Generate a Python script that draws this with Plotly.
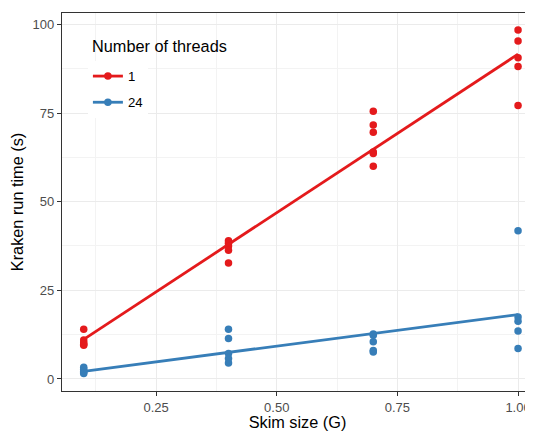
import numpy as np
import plotly.graph_objects as go

# Data
skim_size = [0.1, 0.4, 0.7, 1.0]
t1_runs = {
    0.1: [14.0, 11.0, 10.2, 9.5, 9.8],
    0.4: [39.0, 38.3, 37.5, 36.3, 32.7],
    0.7: [75.5, 71.6, 69.6, 64.0, 63.6, 60.0],
    1.0: [98.4, 95.3, 90.6, 88.1, 77.1],
}
t24_runs = {
    0.1: [3.3, 2.7, 2.2, 1.8, 1.5],
    0.4: [14.0, 11.4, 7.2, 5.8, 4.5],
    0.7: [12.7, 12.3, 10.5, 8.0, 7.6],
    1.0: [41.8, 17.5, 16.3, 13.5, 8.6],
}
thread_labels = ["1", "24"]
legend_title = "Number of threads"
colors = ["#E41A1C", "#377EB8"]
x_ticks = [0.25, 0.50, 0.75, 1.00]
x_tick_text = ["0.25", "0.50", "0.75", "1.00"]
y_ticks = [0, 25, 50, 75, 100]

fig = go.Figure()
for label, runs, col in zip(thread_labels, [t1_runs, t24_runs], colors):
    xs, ys = [], []
    for s in skim_size:
        xs += [s] * len(runs[s])
        ys += runs[s]
    xs = np.array(xs); ys = np.array(ys)
    fig.add_trace(go.Scatter(x=xs, y=ys, mode="markers",
                             marker=dict(color=col, size=7.5),
                             showlegend=False, hoverinfo="skip"))
    slope, intercept = np.polyfit(xs, ys, 1)
    xl = np.array([min(skim_size), max(skim_size)])
    fig.add_trace(go.Scatter(x=xl, y=intercept + slope * xl, mode="lines",
                             line=dict(color=col, width=2.8),
                             showlegend=False))
    fig.add_trace(go.Scatter(x=[None], y=[None], mode="lines+markers", name=label,
                             legendgroup=label,
                             line=dict(color=col, width=2.8),
                             marker=dict(color=col, size=7.5)))

axis_font = dict(family="Liberation Sans, Arial, sans-serif", size=13, color="#4D4D4D")
fig.update_layout(
    width=525, height=423,
    margin=dict(l=54, r=0, t=5, b=40),
    plot_bgcolor="white", paper_bgcolor="white",
    font=dict(family="Liberation Sans, Arial, sans-serif", color="black"),
    legend=dict(
        font=dict(size=13.2, color="black"),
        x=0.055, y=0.873, xanchor="left", yanchor="top",
        bgcolor="white", borderwidth=0,
        itemwidth=30, tracegroupgap=6,
    ),
    annotations=[dict(
        text=legend_title, xref="paper", yref="paper",
        x=0.0594, y=0.9127, xanchor="left", yanchor="middle",
        showarrow=False, font=dict(size=16.3, color="black"),
    )],
    xaxis=dict(
        range=[0.055, 1.031],
        tickvals=x_ticks, ticktext=x_tick_text,
        tickfont=axis_font,
        ticks="outside", ticklen=4, tickcolor="#333333", tickwidth=1,
        showline=True, linecolor="#333333", linewidth=1.2, mirror=True,
        showgrid=True, gridcolor="#EBEBEB", gridwidth=1.3,
        minor=dict(dtick=0.125, tick0=0.125, showgrid=True, gridcolor="#F3F3F3", gridwidth=0.8, ticks=""),
        zeroline=False, automargin=False,
        title=dict(text="Skim size (G)", font=dict(size=16.3, color="black"), standoff=9),
    ),
    yaxis=dict(
        range=[-3.4, 103.2],
        tickvals=y_ticks,
        tickfont=axis_font,
        ticks="outside", ticklen=4, tickcolor="#333333", tickwidth=1,
        showline=True, linecolor="#333333", linewidth=1.2,
        showgrid=True, gridcolor="#EBEBEB", gridwidth=1.3,
        minor=dict(dtick=12.5, tick0=12.5, showgrid=True, gridcolor="#F3F3F3", gridwidth=0.8, ticks=""),
        zeroline=False, automargin=False,
        title=dict(text="Kraken run time (s)", font=dict(size=16.3, color="black"), standoff=4),
    ),
)

fig.write_html("out.html")
